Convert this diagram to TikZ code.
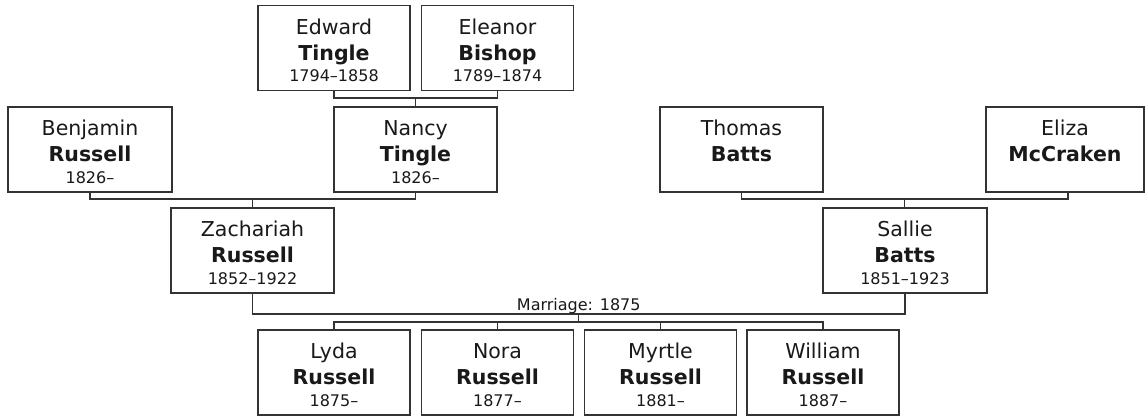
\documentclass[tikz,border=0pt]{standalone}
\usepackage{fontspec}
\setmainfont{DejaVu Sans}
\usetikzlibrary{calc}
\newcommand\ptext[3]{\parbox[c][85pt][t]{145pt}{\centering\lineskiplimit=-100pt
\fontsize{20.5}{26}\selectfont\rule{0pt}{28.5pt}#1\par
\fontsize{20.5}{26}\selectfont\bfseries #2\par
\fontsize{16}{21.5}\selectfont\mdseries #3\par}}
\tikzset{
  person/.style={draw=black!80, line width=1.4pt, rectangle, inner sep=0pt, minimum height=85pt, text=black!90},
  link/.style={draw=black!80, line width=1.4pt},
  mlab/.style={font=\fontsize{16}{16}\selectfont, anchor=base, text=black!90, inner sep=0pt}
}
\begin{document}
\begin{tikzpicture}[x=1pt,y=-1pt]
\fill[white] (0,0) rectangle (1145,416);
\useasboundingbox (0,0) rectangle (1145,416);
% generation 1
\node[person, minimum width=152pt] (edward) at (334,48) {\ptext{Edward}{Tingle}{1794–1858}};
\node[person, minimum width=152pt] (eleanor) at (497.5,48) {\ptext{Eleanor}{Bishop}{1789–1874}};
% generation 2
\node[person, minimum width=164pt] (benjamin) at (90,149.5) {\ptext{Benjamin}{Russell}{1826–}};
\node[person, minimum width=163pt] (nancy) at (415.5,149.5) {\ptext{Nancy}{Tingle}{1826–}};
\node[person, minimum width=163pt] (thomas) at (741.5,149.5) {\ptext{Thomas}{Batts}{}};
\node[person, minimum width=158pt] (eliza) at (1065,149.5) {\ptext{Eliza}{McCraken}{}};
% generation 3
\node[person, minimum width=163pt] (zachariah) at (252.5,250.5) {\ptext{Zachariah}{Russell}{1852–1922}};
\node[person, minimum width=164pt] (sallie) at (905,250.5) {\ptext{Sallie}{Batts}{1851–1923}};
% generation 4
\node[person, minimum width=152pt] (lyda) at (334,372.5) {\ptext{Lyda}{Russell}{1875–}};
\node[person, minimum width=152pt] (nora) at (497.5,372.5) {\ptext{Nora}{Russell}{1877–}};
\node[person, minimum width=152pt] (myrtle) at (660.5,372.5) {\ptext{Myrtle}{Russell}{1881–}};
\node[person, minimum width=152pt] (william) at (823,372.5) {\ptext{William}{Russell}{1887–}};
% connectors
\coordinate (et) at (415.75,98);
\draw[link] (edward.south) |- (et) -| (eleanor.south);
\draw[link] (et) -- (et |- nancy.north);
\coordinate (bn) at (252.75,199);
\draw[link] (benjamin.south) |- (bn) -| (nancy.south);
\draw[link] (bn) -- (bn |- zachariah.north);
\coordinate (te) at (904.75,199);
\coordinate (elizadrop) at ($(eliza.south)+(3,0)$);
\draw[link] (thomas.south) |- (te) -| (elizadrop);
\draw[link] (te) -- (te |- sallie.north);
\coordinate (mar) at (578.75,314);
\draw[link] (zachariah.south) |- (mar) -| (sallie.south);
\node[mlab] (mlabel) at ($(mar)+(0,-4)$) {Marriage: 1875};
\coordinate (kids) at (578.75,322);
\draw[link] (mar) -- (kids);
\draw[link] (lyda.north) |- (kids) -| (william.north);
\draw[link] (kids -| nora.north) -- (nora.north);
\draw[link] (kids -| myrtle.north) -- (myrtle.north);
\end{tikzpicture}
\end{document}
